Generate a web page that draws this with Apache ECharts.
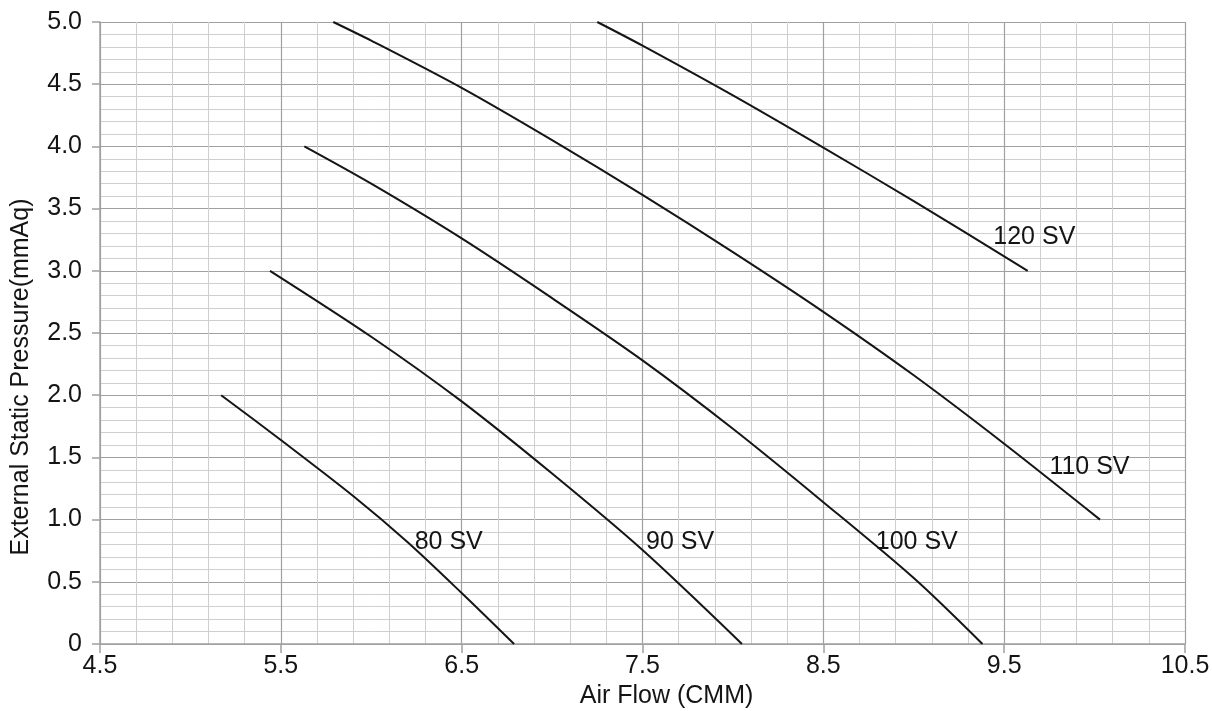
<!DOCTYPE html>
<html><head><meta charset="utf-8">
<script src="https://cdn.jsdelivr.net/npm/echarts@6/dist/echarts.min.js"></script>
<style>html,body{margin:0;padding:0;background:#fff}#c{width:1212px;height:711px}</style>
</head><body><div id="c"></div>
<script>
// Fan curves: [air flow (CMM), external static pressure (mmAq)]
const sv80  = [[5.17,2.0],[5.5,1.64],[5.9,1.19],[6.2,0.82],[6.5,0.41],[6.79,0]];
const sv90  = [[5.44,3.0],[6.0,2.47],[6.5,1.95],[7.0,1.37],[7.5,0.755],[8.05,0]];
const sv100 = [[5.63,4.0],[6.0,3.70],[6.5,3.26],[7.0,2.78],[7.5,2.28],[8.0,1.73],[8.5,1.14],[9.0,0.53],[9.38,0]];
const sv110 = [[5.79,5.0],[6.0,4.85],[6.5,4.47],[7.0,4.05],[7.5,3.61],[8.0,3.15],[8.5,2.67],[9.0,2.16],[9.5,1.61],[10.03,1.0]];
const sv120 = [[7.25,5.0],[7.5,4.81],[8.0,4.41],[8.5,3.99],[9.0,3.56],[9.63,3.0]];
const seriesNames = ['80 SV','90 SV','100 SV','110 SV','120 SV'];
const seriesData = [sv80, sv90, sv100, sv110, sv120];
// label anchors (left edge of label text) in data units
const labelAt = [[6.24,0.82],[7.52,0.82],[8.79,0.82],[9.75,1.42],[9.44,3.27]];

const xTitle = 'Air Flow (CMM)';
const yTitle = 'External Static Pressure(mmAq)';

const FONT = '"Liberation Sans", Arial, sans-serif';
const FS = 25;
const TXT = '#141414';
const MINOR = '#cfcfcf';
const MAJOR = '#a0a0a0';

const option = {
  animation:false,
  backgroundColor:'#fff',
  grid: {left:100, right:27, top:22, bottom:67, containLabel:false, outerBoundsMode:'none'},
  xAxis: [
    {type:'value', min:4.5, max:10.5, interval:0.2, position:'bottom',
      axisLine:{show:false}, axisTick:{show:false}, axisLabel:{show:false},
      splitLine:{show:true, lineStyle:{color:MINOR, width:1}}},
    {type:'value', min:4.5, max:10.5, interval:1, position:'bottom',
      name: xTitle, nameLocation:'middle', nameGap:39,
      nameTextStyle:{fontFamily:FONT, fontSize:FS, color:TXT, padding:[0,0,0,48]},
      axisLine:{show:true, lineStyle:{color:MAJOR, width:1.5}},
      axisTick:{show:true, length:9, lineStyle:{color:MAJOR, width:1.5}},
      axisLabel:{show:true, margin:10, showMinLabel:true, showMaxLabel:true, fontFamily:FONT, fontSize:FS, color:TXT,
        formatter:(v)=> v.toFixed(1)},
      splitLine:{show:true, lineStyle:{color:MAJOR, width:1.2}}}
  ],
  yAxis: [
    {type:'value', min:0, max:5, interval:0.1, position:'left',
      axisLine:{show:false}, axisTick:{show:false}, axisLabel:{show:false},
      splitLine:{show:true, lineStyle:{color:MINOR, width:1}}},
    {type:'value', min:0, max:5, interval:0.5, position:'left',
      name: yTitle, nameLocation:'middle', nameGap:66,
      nameTextStyle:{fontFamily:FONT, fontSize:FS, color:TXT, padding:[0,88,0,0]},
      axisLine:{show:true, lineStyle:{color:MAJOR, width:1.5}},
      axisTick:{show:true, length:8, lineStyle:{color:MAJOR, width:1.5}},
      axisLabel:{show:true, margin:18, showMinLabel:true, showMaxLabel:true, fontFamily:FONT, fontSize:FS, color:TXT,
        formatter:(v)=> v===0 ? '0' : v.toFixed(1)},
      splitLine:{show:true, lineStyle:{color:MAJOR, width:1.2}}}
  ],
  series: seriesData.map((d, k) => ({
    name: seriesNames[k],
    type:'line',
    xAxisIndex:1, yAxisIndex:1,
    data:d,
    smooth:0.3,
    symbol:'none',
    lineStyle:{color:'#151515', width:2},
    z:5,
    markPoint:{
      symbol:'circle', symbolSize:0, silent:true,
      data:[{name:seriesNames[k], coord:labelAt[k]}],
      label:{show:true, position:'right', distance:0, formatter:'{b}',
        fontFamily:FONT, fontSize:FS, color:TXT}
    }
  }))
};
echarts.init(document.getElementById('c'), null, {renderer:'canvas'}).setOption(option);
</script>
</body></html>
